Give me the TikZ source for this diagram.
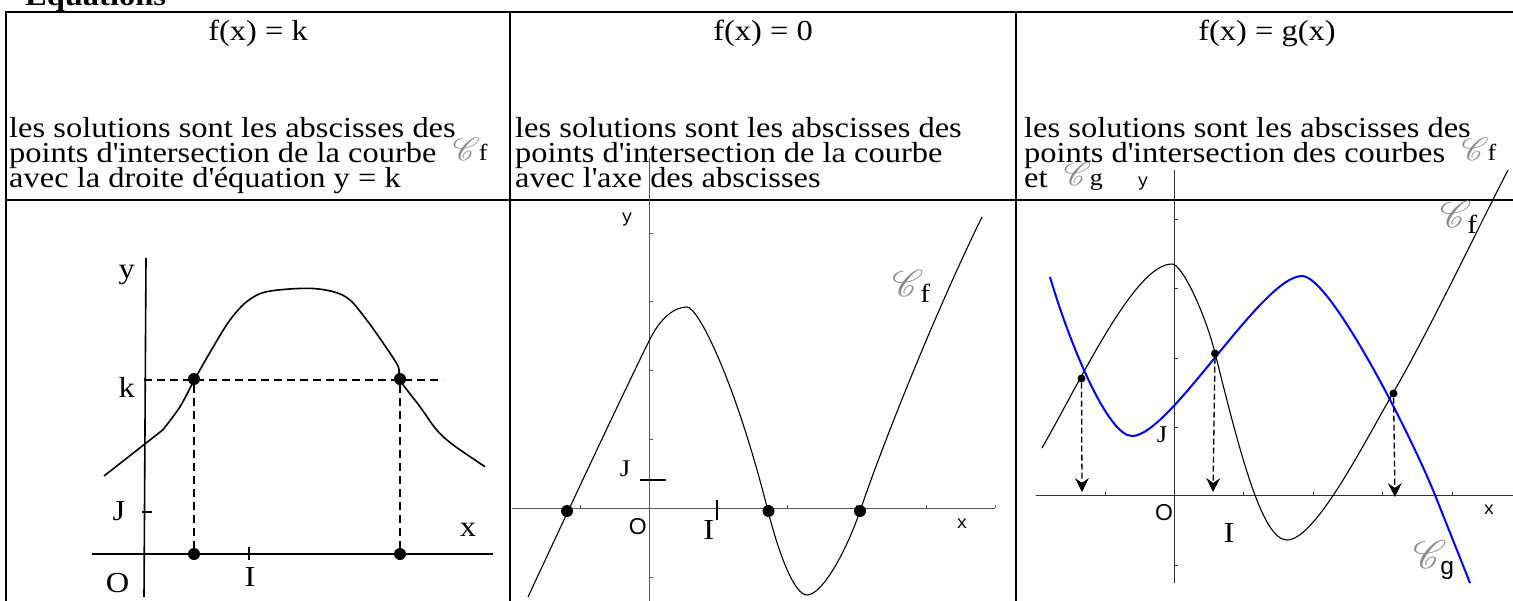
\documentclass[tikz,border=0pt]{standalone}
\usepackage{fontspec}
\usepackage{mathrsfs}
\usepackage{graphicx}
\setmainfont{Liberation Serif}[FakeStretch=1.12]
\newfontfamily\sansfnt{Liberation Sans}
\newfontfamily\monofnt{Liberation Mono}
\usetikzlibrary{arrows.meta}
\definecolor{gblue}{RGB}{0,0,255}
\newcommand{\scrC}{\textcolor{black!45}{$\mathscr{C}$}}
\newcommand{\Cinline}[1]{\raisebox{0.06em}{\scalebox{1.3}{\scrC}}\kern-1pt\raisebox{0.05em}{\scalebox{0.8}{#1}}}
\newcommand{\aq}{\textquotesingle}
\tikzset{
  txt/.style={inner sep=0pt, anchor=base west, font=\fontsize{29}{29}\selectfont},
  hdr/.style={inner sep=0pt, anchor=base, font=\fontsize{29}{29}\selectfont},
  lbl/.style={inner sep=0pt, font=\fontsize{29}{29}\selectfont},
  slbl/.style={inner sep=0pt, font=\fontsize{24}{24}\selectfont},
  olbl/.style={inner sep=0pt, font=\sansfnt\fontsize{23}{23}\selectfont},
  mlbl/.style={inner sep=0pt, font=\monofnt\fontsize{18}{18}\selectfont},
  clbl/.style={inner sep=0pt, anchor=base west, font=\fontsize{29}{29}\selectfont},
  frame/.style={line width=2pt},
  gone/.style={line width=1.6pt},
  gaxis/.style={line width=1pt, black!65},
  gcurve/.style={line width=1.1pt},
  bcurve/.style={line width=2pt, gblue},
  dashone/.style={line width=1.5pt, dash pattern=on 8pt off 5pt},
  bigdot/.style={circle, fill=black, inner sep=0pt, minimum size=12pt},
  smalldot/.style={circle, fill=black, inner sep=0pt, minimum size=8pt},
  darr/.style={line width=1.3pt, dash pattern=on 6pt off 3pt, -{Stealth[length=14pt,width=14pt,inset=5pt]}},
}
\begin{document}
\begin{tikzpicture}[x=1pt,y=-1pt]
\clip (0,0) rectangle (1513,600);
\fill[white] (0,0) rectangle (1513,600);
% title
\node[inner sep=0pt, anchor=base west, font=\fontsize{29}{29}\selectfont\bfseries] (title) at (25,5) {Equations};
% table
\draw[frame] (5,12) -- (1530,12);
\draw[frame] (6,11) -- (6,610);
\draw[frame] (510,12) -- (510,610);
\draw[frame] (1016,12) -- (1016,610);
\draw[frame] (6,200) -- (1530,200);
% headers
\node[hdr] (h1) at (258,40) {f(x) = k};
\node[hdr] (h2) at (763,40) {f(x) = 0};
\node[hdr] (h3) at (1267,40) {f(x) = g(x)};
% column 1 text
\node[txt] (a1l1) at (9,137) {les solutions sont les abscisses des};
\node[txt] (a1l2) at (9,162) {points d\aq intersection de la courbe \ \Cinline{f}};
\node[txt] (a1l3) at (9,187) {avec la droite d\aq équation y = k};
% column 2 text
\node[txt] (a2l1) at (515,137) {les solutions sont les abscisses des};
\node[txt] (a2l2) at (515,162) {points d\aq intersection de la courbe};
\node[txt] (a2l3) at (515,187) {avec l\aq axe des abscisses};
% column 3 text
\node[txt] (a3l1) at (1024,137) {les solutions sont les abscisses des};
\node[txt] (a3l2) at (1024,162) {points d\aq intersection des courbes \ \Cinline{f}};
\node[txt] (a3l3) at (1024,187) {et \ \Cinline{g}};

% ---------------- graph 1
\draw[gone] (146,258) -- (144,597);
\draw[gone] (92,554) -- (493,554);
\draw[gone] (142,512) -- (152,512);
\draw[gone] (249,547) -- (249,560);
\draw[gone] (104,476) -- plot[smooth, tension=0.55] coordinates {(162.7,430) (180,406.7) (194.3,380) (213.3,346.7) (230,320) (246.7,301.7) (266.7,291.7) (306.7,288.3) (333.3,291.7) (350,300) (366.7,320) (383.3,343.3) (398.3,366.7) (400,380) (420,406.7) (436.7,430) (453.3,445) (485,466.7)};
\coordinate (kL) at (144,380);
\coordinate (kR) at (443,380);
\node[bigdot] (p1) at (194,379) {};
\node[bigdot] (p2) at (400,379) {};
\node[bigdot] (q1) at (194,554) {};
\node[bigdot] (q2) at (400,554) {};
\draw[dashone] (kL) -- (kR);
\draw[dashone] (p1) -- (q1);
\draw[dashone] (p2) -- (q2);
\node[lbl] (y1) at (126.7,275) {y};
\node[lbl] (k1) at (126.7,387.5) {k};
\node[lbl] (j1) at (119,511) {J};
\node[lbl] (x1) at (468,530) {x};
\node[lbl] (o1) at (117.5,583) {O};
\node[lbl] (i1) at (250,577) {I};

% ---------------- graph 2
\draw[gaxis] (649,157) -- (649,605);
\draw[gaxis] (512,508) -- (995,508);
\foreach \t in {580,787,856,926,995} \draw[gaxis] (\t,508) -- (\t,504.5);
\foreach \t in {233,301,370,439,577} \draw[gaxis] (649,\t) -- (652.5,\t);
\draw[line width=1.3pt] (640,480) -- (666,480);
\draw[line width=1.3pt] (717,500) -- (717,520);
\draw[gcurve] (528,597) .. controls (568,511) and (620,400) .. (649,341)
  .. controls (661,316.6) and (675,307) .. (687,307)
  .. controls (698,307) and (735,380) .. (768,511)
  .. controls (780,558) and (795,595) .. (807,595)
  .. controls (822,595) and (846,552) .. (860,511)
  .. controls (888,429) and (942,298) .. (982,217);
\node[bigdot] (r1) at (567,511) {};
\node[bigdot] (r2) at (768.5,511) {};
\node[bigdot] (r3) at (860,511) {};
\node[mlbl] (y2) at (627,220) {y};
\node[slbl] (j2) at (625,469) {J};
\node[olbl] (o2) at (637.7,526.7) {O};
\node[lbl] (i2) at (708.7,530) {I};
\node[mlbl] (x2) at (962,524) {x};
\node[clbl] (cf2) at (892,302) {\raisebox{0.2em}{\scalebox{1.5}{\scrC}}\kern-3pt\scalebox{0.9}{f}};

% ---------------- graph 3
\draw[gaxis, black!80] (1174,170) -- (1174,583);
\draw[gaxis, black!80] (1036,495) -- (1513,495);
\foreach \t in {1105,1243,1313,1382,1452} \draw[gaxis, black!80] (\t,495) -- (\t,491.5);
\foreach \t in {219,288,358,427,565} \draw[gaxis, black!80] (1174,\t) -- (1177.5,\t);
\draw[gcurve] (1042,448) .. controls (1082,378) and (1135,264) .. (1172,264)
  .. controls (1182,264) and (1205,313) .. (1215,353)
  .. controls (1240,453) and (1262,540) .. (1287,540)
  .. controls (1315,540) and (1363,445) .. (1393,393)
  .. controls (1430,329) and (1470,244) .. (1508,170);
\draw[bcurve] (1050,277) .. controls (1070,345) and (1108,436) .. (1132,436)
  .. controls (1170,436) and (1262,276) .. (1302,276)
  .. controls (1330,276) and (1410,433) .. (1435,495)
  -- (1470,583);
\node[smalldot] (s1) at (1081.5,378.5) {};
\node[smalldot] (s2) at (1215,353.5) {};
\node[smalldot] (s3) at (1393.5,393.5) {};
\coordinate (t1) at (1082,492);
\coordinate (t2) at (1213,492);
\coordinate (t3) at (1395,497);
\draw[darr] (s1) -- (t1);
\draw[darr] (s2) -- (t2);
\draw[darr] (s3) -- (t3);
\node[mlbl] (y3) at (1143,184) {y};
\node[slbl] (j3) at (1162,435) {J};
\node[olbl] (o3) at (1164,513) {O};
\node[lbl] (i3) at (1229,533) {I};
\node[mlbl] (x3) at (1489,510) {x};
\node[clbl] (cf3) at (1440,233) {\raisebox{0.2em}{\scalebox{1.5}{\scrC}}\kern-4pt\scalebox{0.9}{f}};
\node[clbl] (cg3) at (1413,574) {\raisebox{0.2em}{\scalebox{1.6}{\scrC}}\kern-6pt{\sansfnt\scalebox{0.85}{g}}};
\end{tikzpicture}
\end{document}
